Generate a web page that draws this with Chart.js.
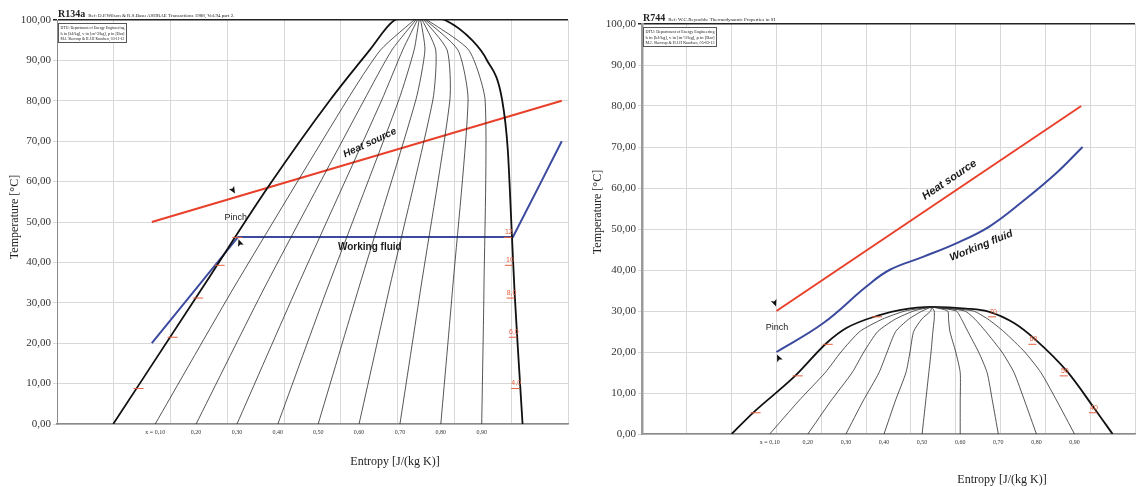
<!DOCTYPE html>
<html>
<head>
<meta charset="utf-8">
<script src="https://cdn.jsdelivr.net/npm/chart.js@4.4.1/dist/chart.umd.min.js"></script>
<style>
  body { margin: 0; background: #fff; }
  #wrap { position: relative; width: 1136px; height: 487px; }
  canvas { position: absolute; top: 0; }
  #r134 { left: 0; }
  #r744 { left: 580px; }
</style>
</head>
<body>
<div id="wrap">
  <canvas id="r134" width="580" height="487"></canvas>
  <canvas id="r744" width="556" height="487"></canvas>
</div>
<script>
// ---- left diagram: R134a (x = entropy in grid units, y = temperature degC)
var r134Dome = [[0.99,0],[2.57,33.9],[3.72,58.7],[4.81,80.2],[5.51,92.6],[5.95,100],[6.39,101.2],
  [6.83,100],[7.31,95],[7.57,90.1],[7.84,80.2],[7.94,67.8],[8.01,47.3],[8.06,32.4],[8.13,15.8],[8.20,0]];
var r134Quality = [
  [[1.73,0],[3.12,33.9],[5.11,80.2],[5.70,92.6],[6.39,101.2]],
  [[2.45,0],[3.66,33.9],[5.41,80.2],[5.90,92.6],[6.39,101.2]],
  [[3.17,0],[4.23,33.9],[5.72,80.2],[6.09,92.6],[6.39,101.2]],
  [[3.89,0],[4.77,33.9],[6.02,80.2],[6.29,92.6],[6.39,101.2]],
  [[4.60,0],[5.32,33.9],[6.32,80.2],[6.48,92.6],[6.39,101.2]],
  [[5.32,0],[5.86,33.9],[6.62,80.2],[6.67,92.6],[6.39,101.2]],
  [[6.04,0],[6.41,33.9],[6.92,80.2],[6.87,92.6],[6.39,101.2]],
  [[6.76,0],[6.97,33.9],[7.24,80.2],[7.06,92.6],[6.39,101.2]],
  [[7.48,0],[7.52,33.9],[7.54,80.2],[7.25,92.6],[6.39,101.2]]
];
var r134Heat = [[1.67,50],[8.89,80]];
var r134Fluid = [[1.67,20],[3.19,46.3],[8.03,46.3],[8.50,59.2],[8.89,70]];
var r134PressLabels = ["12","10","8,0","6,0","4,0"];
var r134PressT = [46.3,39.4,31.3,21.6,8.9];
var r134PressVapX = [8.01,8.03,8.06,8.10,8.14];
var r134PressLiqX = [3.14,2.83,2.45,2.00,1.40];

// ---- right diagram: R744
var r744Dome = [[2.00,0],[2.47,5.1],[3.41,14.1],[4.12,22.2],[4.57,25.9],[5.30,29.0],[5.75,30.2],[6.46,31.0],
  [7.23,30.6],[7.75,29.8],[8.31,27.0],[8.79,22.9],[9.49,15.2],[10.09,6.3],[10.50,0]];
var r744QualityT = [0, 8, 15, 20, 25, 28, 30, 31];
var r744QualityX = [
  [2.85, 3.49, 4.09, 4.44, 4.86, 5.36, 5.87, 6.46],
  [3.70, 4.21, 4.69, 4.95, 5.26, 5.65, 6.06, 6.46],
  [4.55, 4.93, 5.29, 5.47, 5.66, 5.95, 6.25, 6.46],
  [5.40, 5.65, 5.89, 5.98, 6.06, 6.24, 6.44, 6.46],
  [6.25, 6.33, 6.40, 6.45, 6.49, 6.52, 6.52, 6.46],
  [7.10, 7.10, 7.10, 7.00, 6.87, 6.84, 6.82, 6.46],
  [7.95, 7.82, 7.70, 7.51, 7.27, 7.13, 7.01, 6.46],
  [8.80, 8.54, 8.30, 8.03, 7.67, 7.43, 7.20, 6.46],
  [9.65, 9.26, 8.90, 8.54, 8.07, 7.72, 7.39, 6.46]
];
var r744Quality = r744QualityX.map(function (row) {
  return row.map(function (x, i) { return [x, r744QualityT[i]]; });
});
var r744Heat = [[3.00,30],[9.80,80]];
var r744Fluid = [[3.00,20],[4.04,27],[5.00,35.9],[5.52,40],[6.27,43.2],[7.01,46.5],[7.75,50.6],[8.49,56.7],[9.24,63.6],[9.83,70]];
var r744PressLabels = ["70","60","50","40"];
var r744PressT = [28.7,22.0,14.3,5.3];
var r744PressVapX = [7.90,8.80,9.50,10.15];
var r744PressLiqX = [5.20,4.10,3.43,2.49];

var qualityNames = ["x = 0,10","0,20","0,30","0,40","0,50","0,60","0,70","0,80","0,90"];
var yTicks = [0,10,20,30,40,50,60,70,80,90,100];

function pts(arr) {
  return arr.map(function (p) { return {x: p[0], y: p[1]}; });
}

// extra drawing: header, labels, pressure marks, axis titles
var notesPlugin = {
  id: "notes",
  afterDatasetsDraw: function (chart, args, o) {
    var ctx = chart.ctx, a = chart.chartArea;
    var xs = chart.scales.x, ys = chart.scales.y;
    ctx.save();

    // quality labels below axis
    ctx.fillStyle = "#333";
    ctx.font = "6px 'Liberation Serif'";
    ctx.textAlign = "center";
    ctx.textBaseline = "top";
    o.quality.forEach(function (line, i) {
      ctx.fillText(qualityNames[i], xs.getPixelForValue(line[0][0]), a.bottom + 5);
    });

    // pressure marks
    ctx.strokeStyle = "#e5603e";
    ctx.fillStyle = "#e5603e";
    ctx.lineWidth = 1;
    ctx.font = "7px 'Liberation Sans'";
    ctx.textBaseline = "bottom";
    o.pressLabels.forEach(function (t, i) {
      var px = xs.getPixelForValue(o.pressVapX[i]), py = ys.getPixelForValue(o.pressT[i]);
      ctx.beginPath(); ctx.moveTo(px - 8, py + 0.5); ctx.lineTo(px, py + 0.5); ctx.stroke();
      ctx.fillText(t, px - 3, py - 1);
      var lx = xs.getPixelForValue(o.pressLiqX[i]);
      ctx.beginPath(); ctx.moveTo(lx - 3, py + 0.5); ctx.lineTo(lx + 7, py + 0.5); ctx.stroke();
    });

    // text labels
    o.labels.forEach(function (l) {
      ctx.save();
      ctx.translate(xs.getPixelForValue(l.x), ys.getPixelForValue(l.y));
      ctx.rotate(l.rot * Math.PI / 180);
      ctx.font = l.font;
      ctx.fillStyle = "#1a1a1a";
      ctx.textAlign = "center";
      ctx.textBaseline = "middle";
      ctx.fillText(l.text, 0, 0);
      ctx.restore();
    });

    // pinch arrows
    ctx.fillStyle = "#111";
    o.arrows.forEach(function (ar) {
      ctx.save();
      ctx.translate(xs.getPixelForValue(ar.x), ys.getPixelForValue(ar.y));
      ctx.rotate(ar.rot * Math.PI / 180);
      ctx.beginPath();
      ctx.moveTo(0, -4); ctx.lineTo(3, 3); ctx.lineTo(0, 1.5); ctx.lineTo(-3, 3);
      ctx.closePath(); ctx.fill();
      ctx.restore();
    });

    // header text and info box
    ctx.fillStyle = "#222";
    ctx.textAlign = "left";
    ctx.textBaseline = "alphabetic";
    ctx.font = "bold 10px 'Liberation Serif'";
    ctx.fillText(o.fluid, a.left + 1, a.top - 3);
    var w = ctx.measureText(o.fluid).width;
    ctx.font = "5px 'Liberation Serif'";
    ctx.fillText(o.ref, a.left + w + 4, a.top - 3);
    ctx.fillStyle = "#fff";
    ctx.fillRect(a.left + 1, a.top + 3, o.boxW, 19);
    ctx.strokeStyle = "#555";
    ctx.lineWidth = 1;
    ctx.strokeRect(a.left + 1.5, a.top + 3.5, o.boxW, 19);
    ctx.fillStyle = "#222";
    ctx.font = "5px 'Liberation Serif'";
    ctx.textAlign = "center";
    var cx = a.left + 1.5 + o.boxW / 2, mw = o.boxW - 4;
    ctx.fillText("DTU: Department of Energy Engineering", cx, a.top + 9, mw);
    ctx.fillText("h in [kJ/kg], v in [m^3/kg], p in [Bar]", cx, a.top + 14.5, mw);
    ctx.fillText(o.authors, cx, a.top + 20, mw);

    // axis titles
    ctx.font = "12px 'Liberation Serif'";
    ctx.fillStyle = "#222";
    ctx.textBaseline = "middle";
    ctx.fillText("Entropy [J/(kg K)]", o.xTitle[0], o.xTitle[1]);
    ctx.save();
    ctx.translate(o.yTitle[0], o.yTitle[1]);
    ctx.rotate(-Math.PI / 2);
    ctx.fillText("Temperature [°C]", 0, 0);
    ctx.restore();

    ctx.restore();
  }
};

function makeChart(id, d) {
  var datasets = [];
  d.quality.forEach(function (q) {
    datasets.push({ data: pts(q), borderColor: "#2a2a2a", borderWidth: 0.8, tension: d.qualityTension });
  });
  datasets.push({ data: pts(d.dome), borderColor: "#111", borderWidth: 1.8, cubicInterpolationMode: "monotone" });
  datasets.push({ data: pts(d.heat), borderColor: "#e8402a", borderWidth: 2, tension: 0 });
  datasets.push({ data: pts(d.fluid), borderColor: "#3b4a9e", borderWidth: 2, tension: d.fluidTension });

  return new Chart(document.getElementById(id), {
    type: "line",
    data: { datasets: datasets },
    options: {
      responsive: false,
      animation: false,
      layout: { padding: { left: 0, top: d.top, right: d.right, bottom: 0 } },
      elements: { point: { radius: 0 } },
      plugins: {
        legend: { display: false },
        tooltip: { enabled: false },
        notes: d.notes
      },
      scales: {
        x: {
          type: "linear", min: 0, max: d.xMax,
          ticks: { display: false, stepSize: 1 },
          grid: { color: "#d8d8d8", drawTicks: false },
          border: { color: "#8a8a8a", width: 1.5 },
          afterFit: function (s) { s.height = d.xHeight; }
        },
        y: {
          min: 0, max: 100,
          afterBuildTicks: function (s) { s.ticks = yTicks.map(function (v) { return {value: v}; }); },
          ticks: {
            padding: 2,
            color: "#333",
            font: { family: "'Liberation Serif'", size: 11 },
            callback: function (v) { return v.toFixed(2).replace(".", ","); }
          },
          grid: {
            tickLength: 4,
            color: function (c) { return c.tick && c.tick.value === 100 ? "#222" : "#d8d8d8"; },
            lineWidth: function (c) { return c.tick && c.tick.value === 100 ? 1.5 : 1; }
          },
          border: { color: d.yBorder, width: d.yBorderWidth },
          afterFit: function (s) { s.width = d.yWidth; }
        }
      }
    },
    plugins: [notesPlugin]
  });
}

makeChart("r134", {
  quality: r134Quality, dome: r134Dome, heat: r134Heat, fluid: r134Fluid, fluidTension: 0, qualityTension: 0.2,
  xMax: 9, top: 20, right: 12, xHeight: 63, yWidth: 57, yBorder: "#8a8a8a", yBorderWidth: 1,
  notes: {
    quality: r134Quality,
    pressLabels: r134PressLabels, pressT: r134PressT, pressVapX: r134PressVapX, pressLiqX: r134PressLiqX,
    labels: [
      { text: "Heat source", x: 5.51, y: 69.6, rot: -25, font: "italic bold 10px 'Liberation Sans'" },
      { text: "Working fluid", x: 5.51, y: 43.8, rot: 0, font: "bold 10px 'Liberation Sans'" },
      { text: "Pinch", x: 3.15, y: 51.2, rot: 0, font: "9px 'Liberation Sans'" }
    ],
    arrows: [{ x: 3.10, y: 57.9, rot: 150 }, { x: 3.22, y: 44.8, rot: -20 }],
    fluid: "R134a",
    ref: "Ref: D.P.Wilson & R.S.Basu ASHRAE Transactions 1988, Vol.94 part 2.",
    authors: "M.J. Skovrup & H.J.H Knudsen, 03-11-12",
    boxW: 68,
    xTitle: [395, 462],
    yTitle: [15, 217]
  }
});

makeChart("r744", {
  quality: r744Quality, dome: r744Dome, heat: r744Heat, fluid: r744Fluid, fluidTension: 0.4, qualityTension: 0.2,
  xMax: 11, top: 24, right: 1, xHeight: 53, yWidth: 62, yBorder: "#9a9a9a", yBorderWidth: 2.5,
  notes: {
    quality: r744Quality,
    pressLabels: r744PressLabels, pressT: r744PressT, pressVapX: r744PressVapX, pressLiqX: r744PressLiqX,
    labels: [
      { text: "Heat source", x: 6.86, y: 62.0, rot: -34, font: "italic bold 11px 'Liberation Sans'" },
      { text: "Working fluid", x: 7.57, y: 45.9, rot: -22, font: "italic bold 10.5px 'Liberation Sans'" },
      { text: "Pinch", x: 3.01, y: 25.9, rot: 0, font: "9px 'Liberation Sans'" }
    ],
    arrows: [{ x: 2.96, y: 32.0, rot: 160 }, { x: 3.05, y: 18.5, rot: -25 }],
    fluid: "R744",
    ref: "Ref: W.C.Reynolds: Thermodynamic Properties in SI",
    authors: "M.J. Skovrup & H.J.H Knudsen, 05-03-13",
    boxW: 73,
    xTitle: [422, 480],
    yTitle: [18, 212]
  }
});
</script>
</body>
</html>
